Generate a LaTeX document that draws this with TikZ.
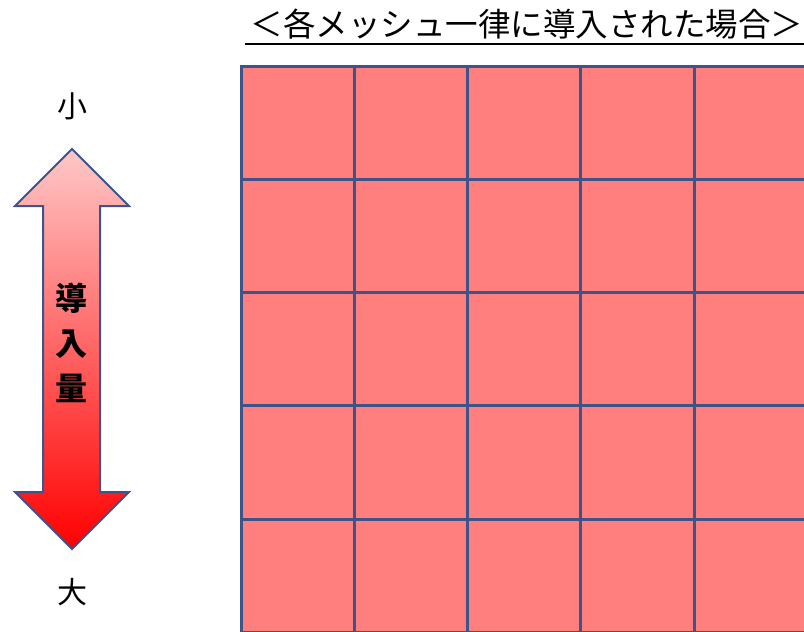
\documentclass[tikz,border=0pt]{standalone}
\usepackage{fontspec}
\newfontfamily\jp{Noto Sans CJK JP}
\definecolor{cellred}{HTML}{FF7F7F}
\definecolor{gridblue}{HTML}{3D5489}
\definecolor{arrowtop}{HTML}{FFC8C8}
\definecolor{arrowbot}{HTML}{FF0000}
\tikzset{
  cellbox/.style={draw=gridblue, line width=3pt, fill=cellred, minimum width=113.3pt, minimum height=113.3pt, inner sep=0pt, outer sep=0pt},
  endlabel/.style={font=\jp\fontsize{30}{32}\selectfont, inner sep=0pt},
  amountlabel/.style={font=\jp\bfseries\fontsize{32}{45}\selectfont, inner sep=0pt, align=center},
  titlelabel/.style={font=\jp\fontsize{32.5}{34}\selectfont, inner sep=0pt}
}
\begin{document}
\begin{tikzpicture}[x=1pt,y=-1pt]
\useasboundingbox (0,0) rectangle (804,632);
\fill[white] (0,0) rectangle (804,632);
% title
\node[titlelabel] (title) at (527,24) {＜各メッシュ一律に導入された場合＞};
\coordinate (ulA) at (245,44);
\coordinate (ulB) at (804,44);
\draw[line width=1.6pt] (ulA) -- (ulB);
% grid
\begin{scope}
\clip (0,0) rectangle (804,632);
\foreach \i in {0,...,4}{
  \foreach \j in {0,...,4}{
    \node[cellbox] (cell-\i-\j) at ({241+113.3*\i+56.65},{66+113.3*\j+56.65}) {};
  }
}
\end{scope}
% double arrow
\draw[draw=gridblue, line width=2pt, top color=arrowtop, bottom color=arrowbot, line join=miter]
  (72,149) -- (129,206) -- (100,206) -- (100,492) -- (129,492) -- (72,549)
  -- (15,492) -- (43,492) -- (43,206) -- (15,206) -- cycle;
\node[amountlabel] (amount) at (72,343) {導\\入\\量};
\node[endlabel] (small) at (72,106) {小};
\node[endlabel] (large) at (72,592) {大};
\end{tikzpicture}
\end{document}
